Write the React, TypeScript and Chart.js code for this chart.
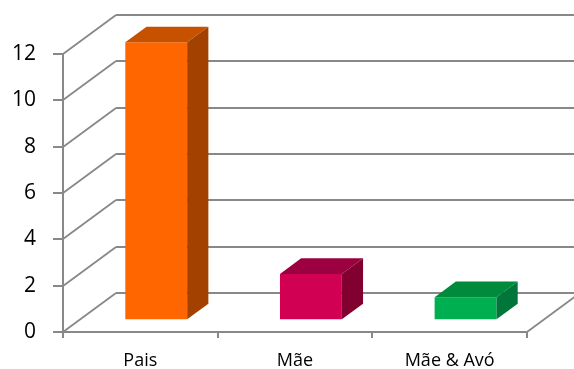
import React, { useEffect, useRef } from "react";
import { Chart, registerables } from "chart.js";

Chart.register(...registerables);

// Data
const categories = ["Pais", "Mãe", "Mãe & Avó"];
const values = [12, 2, 1];
const yMin = 0;
const yMax = 12;
const yStep = 2;

// Face colours for each bar: front, top, side
const frontColors = ["#FF6600", "#D20052", "#00B050"];
const topColors = ["#C65200", "#9C0040", "#008A3C"];
const sideColors = ["#A24100", "#82002F", "#00763A"];

const GRID = "#888888";
const FONT = "'Open Sans', 'Liberation Sans', sans-serif";

// Depth of the 3D box (offset of the back wall from the front plane)
const WALL_DX = 53;
const WALL_DY = -39;
// Bars sit between 30% and 70% of the depth
const BAR_FRONT = 0.3;
const BAR_DEPTH = 0.4;

const box3d = {
  id: "box3d",
  beforeDatasetsDraw(chart: any) {
    const { ctx, chartArea, scales } = chart;
    const ys = scales.y;
    const { left, right, bottom } = chartArea;
    ctx.save();
    ctx.strokeStyle = GRID;
    ctx.lineCap = "butt";
    // back wall gridlines and left wall diagonals
    for (let v = yMin; v <= yMax; v += yStep) {
      const py = Math.round(ys.getPixelForValue(v));
      ctx.lineWidth = 2;
      ctx.beginPath();
      ctx.moveTo(left + WALL_DX, py + WALL_DY);
      ctx.lineTo(right + WALL_DX + 10, py + WALL_DY);
      ctx.stroke();
      ctx.lineWidth = 1.8;
      ctx.beginPath();
      ctx.moveTo(left, py);
      ctx.lineTo(left + WALL_DX, py + WALL_DY);
      ctx.stroke();
    }
    // right edge of the floor
    ctx.lineWidth = 1.8;
    ctx.beginPath();
    ctx.moveTo(right, bottom);
    ctx.lineTo(right + WALL_DX, bottom + WALL_DY);
    ctx.stroke();
    ctx.restore();

    // front faces are drawn by the bar controller, pushed into the depth
    ctx.save();
    ctx.translate(WALL_DX * BAR_FRONT, WALL_DY * BAR_FRONT);
  },
  afterDatasetsDraw(chart: any) {
    const { ctx } = chart;
    ctx.restore();
    const fx = WALL_DX * BAR_FRONT;
    const fy = WALL_DY * BAR_FRONT;
    const bx = WALL_DX * BAR_DEPTH;
    const by = WALL_DY * BAR_DEPTH;
    const meta = chart.getDatasetMeta(0);
    meta.data.forEach((bar: any, i: number) => {
      const { x, y, base, width } = bar.getProps(["x", "y", "base", "width"], true);
      const l = x - width / 2 + fx;
      const r = x + width / 2 + fx;
      const t = y + fy;
      const b = base + fy;
      ctx.save();
      // top face
      ctx.fillStyle = topColors[i];
      ctx.beginPath();
      ctx.moveTo(l, t);
      ctx.lineTo(r, t);
      ctx.lineTo(r + bx, t + by);
      ctx.lineTo(l + bx, t + by);
      ctx.closePath();
      ctx.fill();
      // side face
      ctx.fillStyle = sideColors[i];
      ctx.beginPath();
      ctx.moveTo(r, t);
      ctx.lineTo(r + bx, t + by);
      ctx.lineTo(r + bx, b + by);
      ctx.lineTo(r, b);
      ctx.closePath();
      ctx.fill();
      ctx.restore();
    });
  },
};

export default function App() {
  const ref = useRef<HTMLCanvasElement | null>(null);

  useEffect(() => {
    if (!ref.current) return;
    const chart = new Chart(ref.current, {
      type: "bar",
      data: {
        labels: categories,
        datasets: [
          {
            data: values,
            backgroundColor: frontColors,
            borderWidth: 0,
            barPercentage: 0.4,
            categoryPercentage: 1,
            clip: false as any,
          },
        ],
      },
      options: {
        responsive: false,
        animation: false,
        layout: { padding: { left: 0, right: 47, top: 54, bottom: 0 } },
        plugins: { legend: { display: false }, tooltip: { enabled: false } },
        scales: {
          x: {
            offset: true,
            grid: {
              offset: true,
              drawOnChartArea: false,
              drawTicks: true,
              tickLength: 6,
              color: GRID,
              lineWidth: 2,
            },
            border: { color: GRID, width: 2 },
            ticks: {
              color: "#000",
              font: { family: FONT, size: 18 },
              padding: 12,
              maxRotation: 0,
            },
            afterFit(scale: any) {
              scale.height = 37;
            },
          },
          y: {
            min: yMin,
            max: yMax,
            grid: {
              drawOnChartArea: false,
              drawTicks: true,
              tickLength: 10,
              color: GRID,
              lineWidth: 2,
            },
            border: { color: GRID, width: 2 },
            ticks: {
              stepSize: yStep,
              color: "#000",
              font: { family: FONT, size: 21 },
              padding: 17,
            },
            afterFit(scale: any) {
              scale.width = 63;
            },
          },
        },
      },
      plugins: [box3d],
    });
    return () => chart.destroy();
  }, []);

  return (
    <div style={{ position: "absolute", left: 0, top: 0, width: 574, height: 369, background: "#fff" }}>
      <canvas ref={ref} width={574} height={369} />
    </div>
  );
}
